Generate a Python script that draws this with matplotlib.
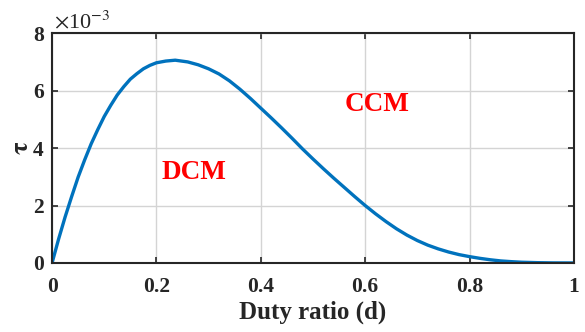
import matplotlib.pyplot as plt

# duty ratio and boundary value tau (in units of 1e-3)
duty = [0, 0.0125, 0.025, 0.0375, 0.05, 0.0625, 0.075, 0.0875, 0.1, 0.1125,
        0.125, 0.1375, 0.15, 0.1625, 0.175, 0.1875, 0.2, 0.218, 0.236, 0.26,
        0.28, 0.3, 0.32, 0.34, 0.36, 0.38, 0.4, 0.42, 0.44, 0.46,
        0.48, 0.5, 0.52, 0.54, 0.56, 0.58, 0.6, 0.62, 0.64, 0.66,
        0.68, 0.7, 0.72, 0.74, 0.76, 0.78, 0.8, 0.82, 0.84, 0.86,
        0.88, 0.9, 0.93, 0.96, 1.0]
tau = [0, 0.83, 1.6, 2.31, 2.99, 3.59, 4.15, 4.64, 5.10, 5.49,
       5.85, 6.14, 6.40, 6.59, 6.76, 6.88, 6.97, 7.03, 7.06, 7.0,
       6.9, 6.76, 6.58, 6.34, 6.05, 5.73, 5.39, 5.05, 4.70, 4.34,
       3.97, 3.62, 3.28, 2.95, 2.63, 2.31, 2.0, 1.71, 1.44, 1.19,
       0.97, 0.78, 0.62, 0.49, 0.38, 0.29, 0.22, 0.16, 0.11, 0.07,
       0.045, 0.025, 0.01, 0.002, 0.0]

regions = ["DCM", "CCM"]
region_pos = [(0.272, 3.14), (0.622, 5.51)]

plt.rcParams['font.family'] = ['Liberation Serif', 'DejaVu Serif']
plt.rcParams['mathtext.fontset'] = 'stix'

fig = plt.figure(figsize=(5.85, 3.32), dpi=100)
ax = fig.add_axes([0.089, 0.208, 0.892, 0.692])

ax.plot(duty, tau, color="#0072BD", linewidth=2.4, solid_capstyle="butt",
        solid_joinstyle="round")

for name, (x, y) in zip(regions, region_pos):
    ax.text(x, y, name, color="red", fontsize=19.5, fontweight="bold",
            ha="center", va="center")

ax.set_xlim(0, 1)
ax.set_ylim(0, 8)
ax.set_xticks([0, 0.2, 0.4, 0.6, 0.8, 1])
ax.set_xticklabels(["0", "0.2", "0.4", "0.6", "0.8", "1"])
ax.set_yticks([0, 2, 4, 6, 8])
ax.grid(True, color="#d4d4d4", linewidth=1.0)
ax.set_axisbelow(True)
ax.tick_params(direction="in", top=True, right=True, length=4, width=1.2,
               labelsize=15.5, colors="#262626")
ax.tick_params(axis="x", pad=10)
ax.tick_params(axis="y", pad=6)
for lab in ax.get_xticklabels() + ax.get_yticklabels():
    lab.set_fontweight("bold")
for s in ax.spines.values():
    s.set_linewidth(1.5)
    s.set_color("#262626")

ax.set_xlabel("Duty ratio (d)", fontsize=18, fontweight="bold", color="#262626",
              labelpad=3)
ax.set_ylabel(r"$\mathbf{\tau}$", fontsize=19, color="#262626", labelpad=0)
ax.text(0.003, 1.0, r"$\times$10$^{-3}$", transform=ax.transAxes, fontsize=16,
        color="#262626", ha="left", va="bottom")

fig.savefig("out.png", dpi=100)
